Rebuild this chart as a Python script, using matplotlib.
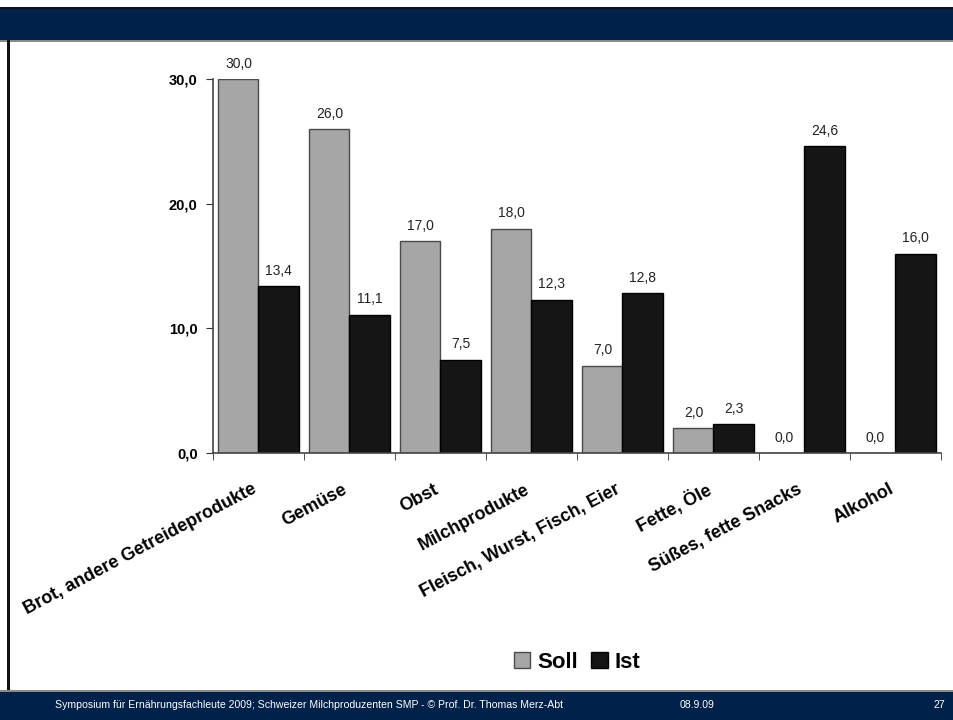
import numpy as np
import matplotlib.pyplot as plt
from matplotlib.patches import Rectangle
from matplotlib.ticker import FixedLocator

plt.rcParams['font.family'] = ['Liberation Sans', 'DejaVu Sans']

# Ernährungspyramide: Soll- und Ist-Anteile in Prozent
kategorien = ['Brot, andere Getreideprodukte', 'Gemüse', 'Obst', 'Milchprodukte',
              'Fleisch, Wurst, Fisch, Eier', 'Fette, Öle', 'Süßes, fette Snacks', 'Alkohol']
soll = [30.0, 26.0, 17.0, 18.0, 7.0, 2.0, 0.0, 0.0]
ist = [13.4, 11.1, 7.5, 12.3, 12.8, 2.3, 24.6, 16.0]

navy = '#00214a'
grau = '#a6a6a6'
schwarz = '#151515'

fig = plt.figure(figsize=(9.54, 7.2), dpi=100)

# Folienrahmen: Kopfbalken, Fussbalken, linker Rand
fig.patches.append(Rectangle((0, 1 - 9/720), 1, 2/720, transform=fig.transFigure,
                             facecolor='#111111', edgecolor='none'))
fig.patches.append(Rectangle((0, 1 - 40/720), 1, 31/720, transform=fig.transFigure,
                             facecolor=navy, edgecolor='none'))
fig.patches.append(Rectangle((0, 1 - 42/720), 1, 2/720, transform=fig.transFigure,
                             facecolor='#8a8a8a', edgecolor='none'))
fig.patches.append(Rectangle((7/954, 30/720), 3/954, 650/720, transform=fig.transFigure,
                             facecolor='#111111', edgecolor='none'))
fig.patches.append(Rectangle((0, 0), 1, 28/720, transform=fig.transFigure,
                             facecolor=navy, edgecolor='none'))
fig.patches.append(Rectangle((0, 28/720), 1, 2/720, transform=fig.transFigure,
                             facecolor='#8a8a8a', edgecolor='none'))

fuss = dict(color='white', fontsize=7.6, va='center')
fig.text(55/954, 15/720, 'Symposium für Ernährungsfachleute 2009; Schweizer Milchproduzenten SMP - © Prof. Dr. Thomas Merz-Abt',
         ha='left', **fuss)
fig.text(680/954, 15/720, '08.9.09', ha='left', **fuss)
fig.text(945/954, 15/720, '27', ha='right', **fuss)

ax = fig.add_axes([213/954, 1 - 453/720, 728/954, 374/720])

x = np.arange(len(kategorien))
b = 0.44
balken_soll = ax.bar(x - b/2, soll, b, color=grau, edgecolor='#4a4a4a', linewidth=1.0, label='Soll')
balken_ist = ax.bar(x + b/2, ist, b, color=schwarz, edgecolor='black', linewidth=1.0, label='Ist')

for rects, werte in ((balken_soll, soll), (balken_ist, ist)):
    for r, w in zip(rects, werte):
        ax.annotate(f'{w:.1f}'.replace('.', ','), (r.get_x() + r.get_width()/2, w),
                    xytext=(0, 6), textcoords='offset points', ha='center', va='bottom',
                    fontsize=10, color='#222222')

ax.set_xlim(-0.5, len(kategorien) - 0.5)
ax.set_ylim(0, 30)
ax.set_yticks([0, 10, 20, 30])
ax.set_yticklabels(['0,0', '10,0', '20,0', '30,0'], fontsize=10.5, fontweight='bold')
# Beschriftungen leicht links von der Gruppenmitte verankert
ax.set_xticks(x - 0.08)
ax.set_xticklabels(kategorien, rotation=28, ha='right', rotation_mode='anchor',
                   fontsize=13, fontweight='bold')
ax.xaxis.set_minor_locator(FixedLocator(np.arange(len(kategorien) + 1) - 0.5))
ax.tick_params(axis='x', which='major', length=0, pad=20)
ax.tick_params(axis='x', which='minor', length=5, color='#333333')
ax.tick_params(axis='y', length=5, color='#333333', pad=6)

for s in ('top', 'right'):
    ax.spines[s].set_visible(False)
for s in ('left', 'bottom'):
    ax.spines[s].set_color('#444444')
    ax.spines[s].set_linewidth(1.2)

fig.legend(handles=[balken_soll, balken_ist], labels=['Soll', 'Ist'], loc='center',
           bbox_to_anchor=(577/954, 1 - 662/720), ncol=2, frameon=False,
           prop={'size': 16, 'weight': 'bold'}, handlelength=0.75, handleheight=0.75,
           handletextpad=0.3, columnspacing=0.6)

fig.savefig('out.png', dpi=100)
